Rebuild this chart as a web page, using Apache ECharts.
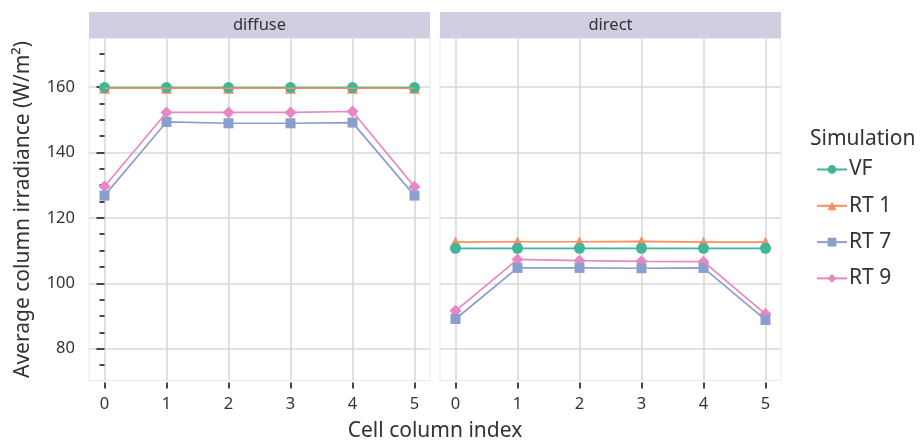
<!DOCTYPE html>
<html>
<head>
<meta charset="utf-8">
<script src="https://cdn.jsdelivr.net/npm/echarts@6/dist/echarts.min.js"></script>
<style>html,body{margin:0;padding:0;background:#fff;}#chart{width:921px;height:442px;}</style>
</head>
<body>
<div id="chart"></div>
<script>
// ---- data ----
const cellIndex = [0, 1, 2, 3, 4, 5];
const facets = ['diffuse', 'direct'];
const simulations = ['VF', 'RT 1', 'RT 7', 'RT 9'];
const xTicks = [0, 1, 2, 3, 4, 5];
const yTicks = [80, 100, 120, 140, 160];

const diffuseVF  = [159.8, 159.8, 159.8, 159.8, 159.8, 159.8];
const diffuseRT1 = [159.6, 159.6, 159.6, 159.6, 159.6, 159.6];
const diffuseRT7 = [126.8, 149.3, 148.9, 148.9, 149.1, 126.8];
const diffuseRT9 = [129.6, 152.2, 152.2, 152.2, 152.5, 129.5];

const directVF  = [110.7, 110.7, 110.7, 110.7, 110.7, 110.7];
const directRT1 = [112.6, 112.7, 112.7, 112.8, 112.6, 112.6];
const directRT7 = [89.1, 104.7, 104.7, 104.6, 104.7, 88.8];
const directRT9 = [91.6, 107.3, 106.9, 106.7, 106.6, 90.6];

const panelData = [
  [diffuseVF, diffuseRT1, diffuseRT7, diffuseRT9],
  [directVF, directRT1, directRT7, directRT9]
];

// ---- styles ----
const FONT = 'Noto Sans';
const colors = ['#3fb599', '#fc8d5f', '#8b9fcd', '#e887c2'];
const symbols = ['circle', 'triangle', 'rect', 'diamond'];
const symbolSizes = [11, 11, 10, 12];
const gridLeft = [89, 440];
const gridWidth = 341;
const gridTop = 38.5;
const gridHeight = 342;
const gridColor = '#d8d8d8';
const textColor = '#333333';

const chart = echarts.init(document.getElementById('chart'), null, {renderer: 'canvas'});

const grids = [], xAxes = [], yAxes = [], series = [], graphics = [];
facets.forEach((f, p) => {
  grids.push({left: gridLeft[p], top: gridTop, width: gridWidth, height: gridHeight,
    show: true, borderColor: '#ebebeb', borderWidth: 1, backgroundColor: '#fff', containLabel: false});
  xAxes.push({
    type: 'value', gridIndex: p, min: -0.25, max: 5.25, minInterval: 1, maxInterval: 1,
    offset: 2,
    axisLine: {show: false},
    axisTick: {show: true, length: 6, customValues: xTicks, lineStyle: {color: textColor, width: 1.8}},
    axisLabel: {show: true, customValues: xTicks, margin: 13, fontSize: 16.5, color: textColor, fontFamily: FONT,
      formatter: v => (Number.isInteger(v) ? String(v) : '')},
    splitLine: {show: true, customValues: xTicks,
      lineStyle: {color: gridColor, width: 1.6}}
  });
  const isLeft = p === 0;
  yAxes.push({
    type: 'value', gridIndex: p, min: 70.3, max: 174.8, minInterval: 20, maxInterval: 20,
    offset: 1,
    axisLine: {show: false},
    axisTick: {show: isLeft, length: 8, customValues: yTicks, lineStyle: {color: textColor, width: 1.8}},
    minorTick: {show: isLeft, splitNumber: 4, length: 5, lineStyle: {color: textColor, width: 1.8}},
    axisLabel: {show: isLeft, customValues: yTicks, margin: 13, fontSize: 16.5, color: textColor, fontFamily: FONT,
      formatter: v => (v % 20 === 0 ? String(v) : '')},
    splitLine: {show: true, customValues: yTicks,
      lineStyle: {color: gridColor, width: 1.6}},
    name: isLeft ? 'Average column irradiance (W/m²)' : '',
    nameLocation: 'middle', nameGap: 54,
    nameTextStyle: {fontSize: 21, color: textColor, fontFamily: FONT}
  });
  // points (drawn below lines), VF last so circles sit on top of triangles
  const pointOrder = [3, 2, 1, 0];
  simulations.forEach((s, i) => {
    series.push({
      type: 'line', name: s, xAxisIndex: p, yAxisIndex: p,
      data: cellIndex.map((x, k) => [x, panelData[p][i][k]]),
      symbol: symbols[i], symbolSize: symbolSizes[i], showSymbol: false,
      lineStyle: {color: colors[i], width: 1.7}, itemStyle: {color: colors[i]},
      z: 4, silent: true, animation: false
    });
  });
  pointOrder.forEach(i => {
    series.push({
      type: 'scatter', name: simulations[i], xAxisIndex: p, yAxisIndex: p,
      data: cellIndex.map((x, k) => [x, panelData[p][i][k]]),
      symbol: symbols[i], symbolSize: symbolSizes[i],
      itemStyle: {color: colors[i], opacity: 1},
      z: 3, silent: true, animation: false
    });
  });
  graphics.push({type: 'rect', left: gridLeft[p], top: 12, shape: {width: gridWidth, height: 26},
    style: {fill: '#d2cee2'}, silent: true});
  graphics.push({type: 'text', x: gridLeft[p] + gridWidth / 2, y: 25,
    style: {text: f, fill: textColor, font: '16.5px "' + FONT + '"', textAlign: 'center', textVerticalAlign: 'middle'}});
});

graphics.push({type: 'text', x: 435, y: 431,
  style: {text: 'Cell column index', fill: textColor, font: '21px "' + FONT + '"', textAlign: 'center', textVerticalAlign: 'middle'}});
graphics.push({type: 'text', x: 810, y: 139,
  style: {text: 'Simulation', fill: textColor, font: '21px "' + FONT + '"', textAlign: 'left', textVerticalAlign: 'middle'}});

chart.setOption({
  backgroundColor: '#ffffff',
  animation: false,
  textStyle: {fontFamily: FONT},
  grid: grids,
  xAxis: xAxes,
  yAxis: yAxes,
  legend: {
    data: simulations, orient: 'vertical', left: 811, top: 154,
    itemWidth: 30, itemHeight: 11, itemGap: 15.3,
    textStyle: {fontSize: 21, color: textColor, fontFamily: FONT, padding: [0, 0, 0, -3]},
    selectedMode: false
  },
  graphic: graphics,
  series: series
});
</script>
</body>
</html>
